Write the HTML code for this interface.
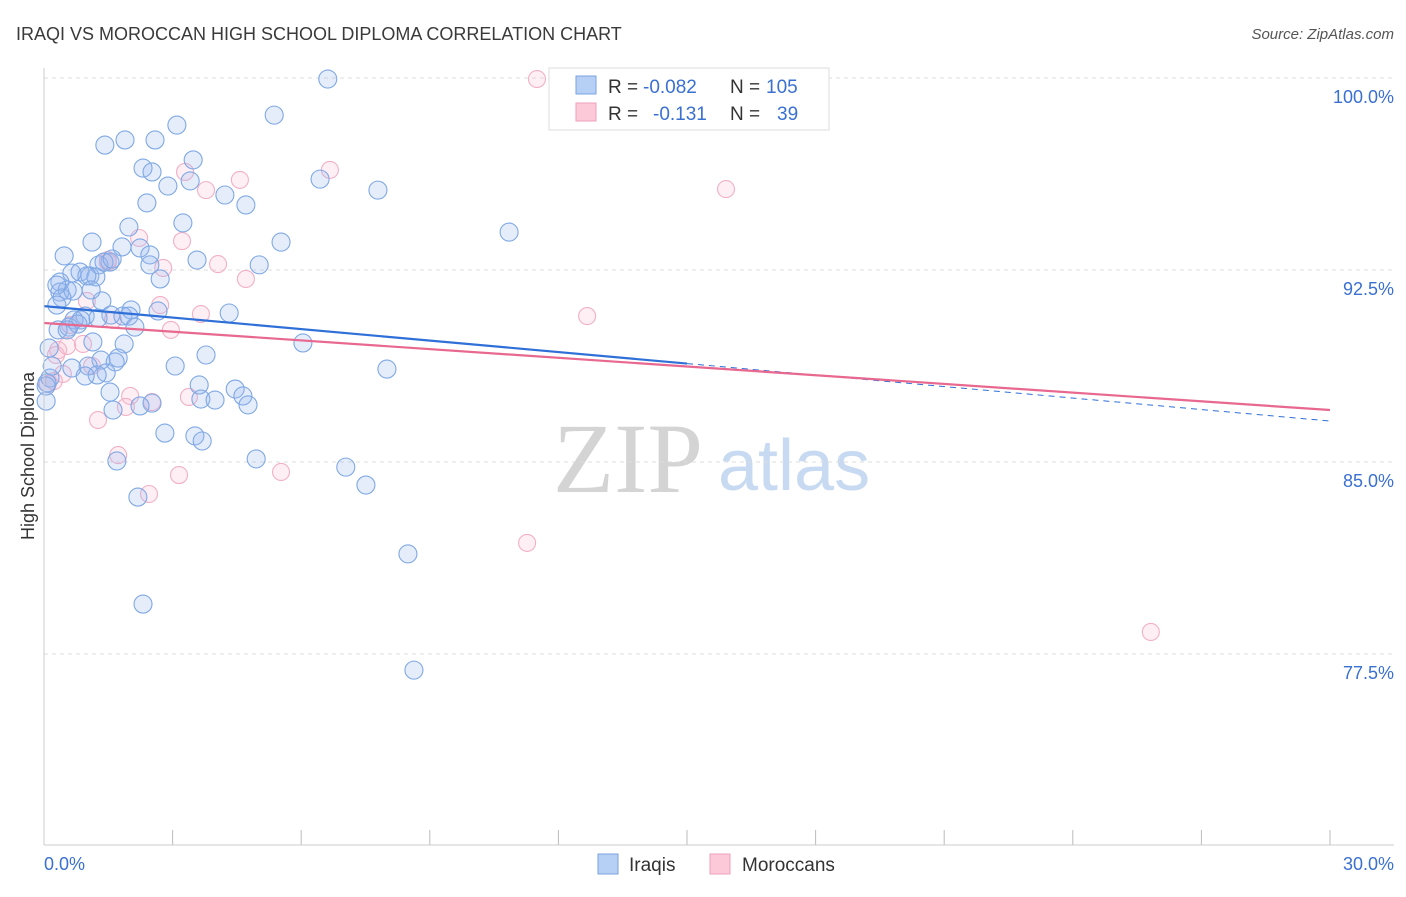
<!DOCTYPE html>
<html><head><meta charset="utf-8"><style>
body{margin:0;background:#fff;font-family:"Liberation Sans",sans-serif;}
svg text{font-family:"Liberation Sans",sans-serif;}
svg text.serif{font-family:"Liberation Serif",serif;}
</style></head><body>
<svg width="1406" height="892" viewBox="0 0 1406 892" id="c">
<text x="16" y="40" font-size="18" fill="#3a3a3a">IRAQI VS MOROCCAN HIGH SCHOOL DIPLOMA CORRELATION CHART</text>
<text x="1394" y="39" font-size="15" fill="#555" text-anchor="end" font-style="italic">Source: ZipAtlas.com</text>
<text x="34" y="456" font-size="18" fill="#333" text-anchor="middle" transform="rotate(-90 34 456)">High School Diploma</text>
<text class="serif" x="553" y="492" font-size="100" fill="#d4d4d4">ZIP</text>
<text x="718" y="490" font-size="72" fill="#c8daf2">atlas</text>
<g id="grid"></g><g id="ticks"></g><g id="pts"></g><g id="lines"></g>
<line x1="44" y1="68" x2="44" y2="845" stroke="#ccc"/>
<line x1="44" y1="845" x2="1394" y2="845" stroke="#ccc"/>
<text x="44" y="870" font-size="18" fill="#3a70d0">0.0%</text>
<text x="1394" y="870" font-size="18" fill="#3a70d0" text-anchor="end">30.0%</text>
<g>
<rect x="549" y="68" width="280" height="62" fill="#fff" stroke="#ddd"/>
<rect x="576" y="76" width="20" height="18" fill="#b5cff5" stroke="#7aa3e0"/>
<rect x="576" y="103" width="20" height="18" fill="#fbc9d8" stroke="#f0a0bb"/>
<text x="608" y="93" font-size="19" fill="#333">R =</text>
<text x="643" y="93" font-size="19" fill="#3a70d0">-0.082</text>
<text x="730" y="93" font-size="19" fill="#333">N =</text>
<text x="766" y="93" font-size="19" fill="#3a70d0">105</text>
<text x="608" y="120" font-size="19" fill="#333">R =</text>
<text x="653" y="120" font-size="19" fill="#3a70d0">-0.131</text>
<text x="730" y="120" font-size="19" fill="#333">N =</text>
<text x="777" y="120" font-size="19" fill="#3a70d0">39</text>
</g>
<g><rect x="598" y="854" width="20" height="20" fill="#b5cff5" stroke="#7aa3e0"/><text x="629" y="871" font-size="19" fill="#333">Iraqis</text></g>
<g><rect x="710" y="854" width="20" height="20" fill="#fbc9d8" stroke="#f0a0bb"/><text x="742" y="871" font-size="19" fill="#333">Moroccans</text></g>
</svg>
<script>
const yTicks=[100,92.5,85,77.5];
const yTickLabels=["100.0%","92.5%","85.0%","77.5%"];
const xTicks=[0,3,6,9,12,15,18,21,24,27,30];
const iraqiX=[6.62,5.37,3.10,1.89,2.59,1.42,3.48,2.31,2.52,3.41,2.89,6.44,7.79,4.22,4.71,2.40,3.24,1.98,10.85,1.12,5.53,2.24,1.82,0.47,2.47,3.57,5.02,1.54,1.28,2.71,0.65,0.84,1.07,1.21,0.37,1.00,0.54,0.37,0.68,0.42,1.35,0.30,2.03,4.32,2.66,1.56,1.84,1.98,0.96,0.70,0.86,1.26,0.58,0.79,2.12,0.33,0.54,1.14,1.87,6.04,0.12,3.78,1.73,1.33,1.66,0.65,1.03,3.06,8.00,1.45,1.24,0.96,0.14,0.07,3.62,1.54,4.46,4.64,3.66,3.99,4.76,2.52,2.24,1.61,2.82,3.52,3.69,4.95,1.70,7.04,7.51,2.19,8.49,2.31,8.63,0.05,0.05,0.19,1.40,1.10,2.47,1.59,0.30];
const iraqiY=[99.96,98.55,98.16,97.58,97.58,97.38,96.80,96.48,96.33,95.98,95.78,96.05,95.62,95.43,95.04,95.12,94.34,94.18,93.98,93.59,93.59,93.36,93.40,93.05,93.09,92.89,92.70,92.81,92.70,92.15,92.38,92.42,92.27,92.23,92.03,92.27,91.72,91.64,91.68,91.41,91.29,91.13,90.94,90.82,90.90,90.74,90.70,90.70,90.70,90.55,90.55,90.62,90.27,90.39,90.27,90.16,90.16,89.69,89.61,89.65,89.45,89.18,89.06,88.98,88.91,88.67,88.75,88.75,88.63,88.48,88.40,88.36,88.28,88.09,88.01,87.73,87.85,87.58,87.46,87.42,87.23,87.30,87.19,87.03,86.13,86.02,85.82,85.12,85.04,84.80,84.10,83.63,81.41,79.45,76.87,87.38,87.97,88.75,92.81,91.72,92.70,92.93,91.91];
const morX=[11.50,6.67,3.29,4.57,3.78,15.91,2.22,3.22,1.49,2.78,4.06,4.71,1.00,2.71,3.66,12.67,1.61,2.96,0.61,0.33,0.54,0.91,1.12,0.44,0.23,0.09,2.01,3.38,2.52,1.91,1.26,1.73,5.53,3.15,2.45,11.27,25.82,1.49,0.28];
const morY=[99.96,96.41,96.33,96.02,95.62,95.66,93.75,93.63,92.89,92.58,92.73,92.15,91.29,91.13,90.78,90.70,90.55,90.16,90.35,89.37,89.53,89.61,88.75,88.44,88.16,88.05,87.58,87.54,87.34,87.15,86.64,85.27,84.61,84.49,83.75,81.84,78.36,92.81,89.18];
const iraqiTrend=[91.09,86.60];
const morTrend=[90.43,87.03];
const iraqiSolidEnd=15;
const X=v=>44+v/30*1286, Y=v=>78+(100-v)/7.5*192;
const NS="http://www.w3.org/2000/svg";
function mk(t,a,p){const e=document.createElementNS(NS,t);for(const k in a)e.setAttribute(k,a[k]);p.appendChild(e);return e;}
const g=document.getElementById('grid');
yTicks.forEach((t,i)=>{
 const l=mk('line',{x1:44,x2:1394,y1:Y(t),y2:Y(t),stroke:'#ddd','stroke-dasharray':'4,4'},g);
 
 
 const tx=mk('text',{x:1394,y:Y(t)+25,'font-size':18,fill:'#3a70d0','text-anchor':'end'},g);
 tx.textContent=yTickLabels[i];
 
 
});
const tk=document.getElementById('ticks');
xTicks.forEach(t=>{
 const l=mk('line',{x1:X(t),x2:X(t),y1:830,y2:845,stroke:'#bbb'},tk);
 
 
});
const P=document.getElementById('pts');
morX.forEach((x,i)=>{
 const c=mk('circle',{cx:X(x),cy:Y(morY[i]),r:8.5,fill:'rgba(248,180,205,0.22)',stroke:'#f2b0c6','stroke-width':1.1},P);
 
 
});
iraqiX.forEach((x,i)=>{
 const c=mk('circle',{cx:X(x),cy:Y(iraqiY[i]),r:9,fill:'rgba(150,185,240,0.25)',stroke:'#7fa8e4','stroke-width':1.1},P);
 
 
});
const L=document.getElementById('lines');
const bv=x=>iraqiTrend[0]+(iraqiTrend[1]-iraqiTrend[0])*x/30;
let l1=mk('line',{x1:X(0),y1:Y(bv(0)),x2:X(iraqiSolidEnd),y2:Y(bv(iraqiSolidEnd)),stroke:'#2f6fd8','stroke-width':2.2},L);


let l2=mk('line',{x1:X(iraqiSolidEnd),y1:Y(bv(iraqiSolidEnd)),x2:X(30),y2:Y(bv(30)),stroke:'#2f6fd8','stroke-width':1,'stroke-dasharray':'6,5'},L);


let l3=mk('line',{x1:X(0),y1:Y(morTrend[0]),x2:X(30),y2:Y(morTrend[1]),stroke:'#e8688f','stroke-width':2.2},L);


</script>
</body></html>
